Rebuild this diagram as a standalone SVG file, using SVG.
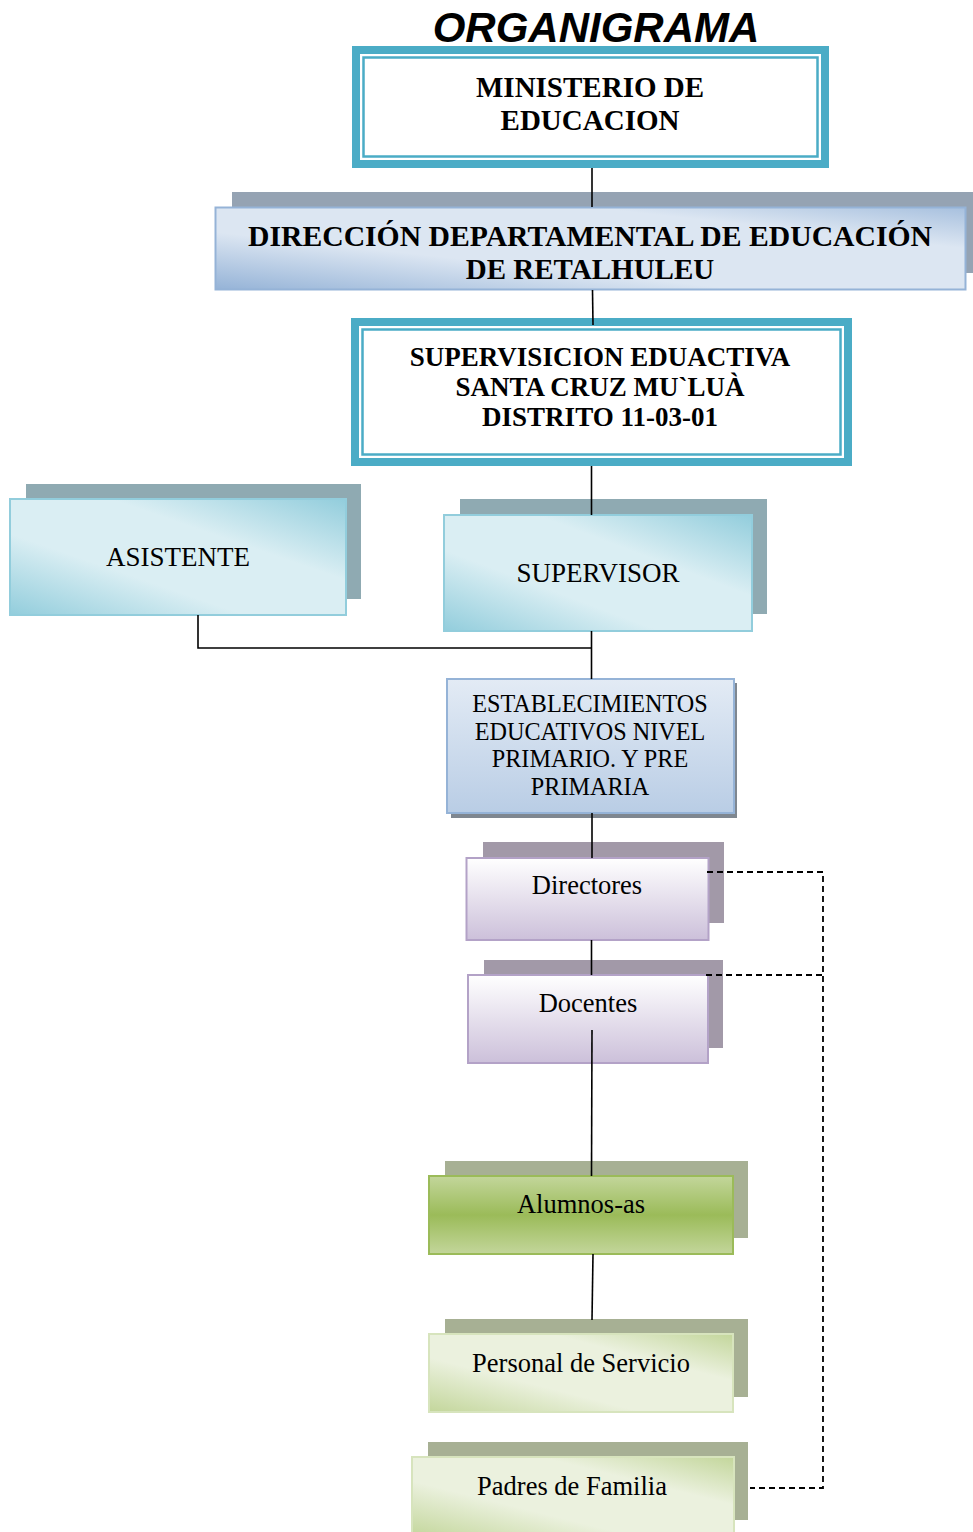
<svg xmlns="http://www.w3.org/2000/svg" width="973" height="1532" viewBox="0 0 973 1532">
<defs>
<linearGradient id="gBlue" x1="0" y1="1" x2="1" y2="0">
<stop offset="0" stop-color="#95B3D7"/><stop offset="0.35" stop-color="#DCE6F2"/><stop offset="0.75" stop-color="#DCE6F2"/><stop offset="1" stop-color="#A7C0DE"/>
</linearGradient>
<linearGradient id="gCyan" x1="0" y1="1" x2="1" y2="0">
<stop offset="0" stop-color="#92CDDC"/><stop offset="0.35" stop-color="#DAEEF3"/><stop offset="0.65" stop-color="#DAEEF3"/><stop offset="1" stop-color="#92CDDC"/>
</linearGradient>
<linearGradient id="gEst" x1="0" y1="0" x2="0" y2="1">
<stop offset="0" stop-color="#E3EBF5"/><stop offset="1" stop-color="#B9CDE5"/>
</linearGradient>
<linearGradient id="gPurple" x1="0" y1="0" x2="0" y2="1">
<stop offset="0" stop-color="#FFFFFF"/><stop offset="1" stop-color="#CCC0DA"/>
</linearGradient>
<linearGradient id="gGreen" x1="0" y1="0" x2="0" y2="1">
<stop offset="0" stop-color="#C3D69B"/><stop offset="0.5" stop-color="#9BBB59"/><stop offset="1" stop-color="#C3D69B"/>
</linearGradient>
<linearGradient id="gLGreen" x1="0" y1="1" x2="1" y2="0">
<stop offset="0" stop-color="#C3D69B"/><stop offset="0.35" stop-color="#EBF1DE"/><stop offset="0.7" stop-color="#EBF1DE"/><stop offset="1" stop-color="#C3D69B"/>
</linearGradient>
</defs>
<style>
.t{font-family:"Liberation Serif","Times New Roman",serif;fill:#000;text-anchor:middle}
.b{font-weight:bold}
.n{font-size:26.5px}
.line{stroke:#000;stroke-width:1.6;fill:none}
.dash{stroke:#000;stroke-width:1.8;fill:none;stroke-dasharray:6 4}
</style>
<text x="596" y="42" font-family="Liberation Sans, Arial, sans-serif" font-weight="bold" font-style="italic" font-size="42" text-anchor="middle">ORGANIGRAMA</text>

<g id="ministerio">
<rect x="352" y="46" width="477" height="122" fill="#4BACC6"/>
<rect x="360" y="54" width="461" height="106" fill="#FFFFFF"/>
<rect x="363.5" y="57.5" width="454" height="99" fill="#FFFFFF" stroke="#4BACC6" stroke-width="2.5"/>
<text class="t b" x="590" y="97" font-size="29">MINISTERIO DE</text>
<text class="t b" x="590" y="130" font-size="29">EDUCACION</text>
</g>

<g id="direccion">
<rect x="232" y="192" width="741" height="81" fill="#95A3B3"/>
<rect x="215.5" y="207.5" width="750" height="82" fill="url(#gBlue)" stroke="#95B3D7" stroke-width="2"/>
<text class="t b" x="590" y="246" font-size="29" textLength="684" lengthAdjust="spacingAndGlyphs">DIRECCIÓN DEPARTAMENTAL DE EDUCACIÓN</text>
<text class="t b" x="590" y="279" font-size="29">DE RETALHULEU</text>
</g>

<g id="supervisicion">
<rect x="351" y="318" width="501" height="148" fill="#4BACC6"/>
<rect x="359" y="326" width="485" height="132" fill="#FFFFFF"/>
<rect x="362.5" y="329.5" width="478" height="125" fill="#FFFFFF" stroke="#4BACC6" stroke-width="2.5"/>
<text class="t b" x="600" y="366" font-size="27">SUPERVISICION EDUACTIVA</text>
<text class="t b" x="600" y="396" font-size="27">SANTA CRUZ MU`LUÀ</text>
<text class="t b" x="600" y="426" font-size="27">DISTRITO 11-03-01</text>
</g>

<g id="asistente">
<rect x="26" y="484" width="335" height="115" fill="#8FAAB2"/>
<rect x="10" y="499" width="336" height="116" fill="url(#gCyan)" stroke="#92CDDC" stroke-width="2"/>
<text class="t" x="178" y="566" font-size="27">ASISTENTE</text>
</g>

<g id="supervisor">
<rect x="460" y="499" width="307" height="115" fill="#8FAAB2"/>
<rect x="444" y="515" width="308" height="116" fill="url(#gCyan)" stroke="#92CDDC" stroke-width="2"/>
<text class="t" x="598" y="582" font-size="27">SUPERVISOR</text>
</g>

<g id="establecimientos">
<rect x="451" y="683" width="286" height="135" fill="#7F8790"/>
<rect x="447" y="679" width="287" height="134" fill="url(#gEst)" stroke="#95B3D7" stroke-width="2"/>
<text class="t" x="590" y="712" font-size="24.2">ESTABLECIMIENTOS</text>
<text class="t" x="590" y="739.5" font-size="24.2">EDUCATIVOS NIVEL</text>
<text class="t" x="590" y="767" font-size="24.2">PRIMARIO. Y PRE</text>
<text class="t" x="590" y="794.5" font-size="24.2">PRIMARIA</text>
</g>

<g id="directores">
<rect x="483" y="842" width="241" height="81" fill="#A299A8"/>
<rect x="466.5" y="858" width="242" height="82" fill="url(#gPurple)" stroke="#B3A2C7" stroke-width="2"/>
<text class="t n" x="587" y="894">Directores</text>
</g>

<g id="docentes">
<rect x="484" y="960" width="239" height="88" fill="#A299A8"/>
<rect x="468" y="975" width="240" height="88" fill="url(#gPurple)" stroke="#B3A2C7" stroke-width="2"/>
<text class="t n" x="588" y="1012">Docentes</text>
</g>

<g id="alumnos">
<rect x="445" y="1161" width="303" height="77" fill="#A7B094"/>
<rect x="429" y="1176" width="304" height="78" fill="url(#gGreen)" stroke="#9BBB59" stroke-width="2"/>
<text class="t n" x="581" y="1213">Alumnos-as</text>
</g>

<g id="personal">
<rect x="445" y="1319" width="303" height="78" fill="#A7B094"/>
<rect x="429" y="1334" width="304" height="78" fill="url(#gLGreen)" stroke="#D7E4BD" stroke-width="2"/>
<text class="t n" x="581" y="1372">Personal de Servicio</text>
</g>

<g id="padres">
<rect x="428" y="1442" width="320" height="78" fill="#A7B094"/>
<rect x="412" y="1457" width="322" height="80" fill="url(#gLGreen)" stroke="#D7E4BD" stroke-width="2"/>
<text class="t n" x="572" y="1495">Padres de Familia</text>
</g>

<g id="connectors">
<line class="line" x1="592" y1="168" x2="592" y2="207"/>
<line class="line" x1="592.5" y1="290" x2="593" y2="325"/>
<line class="line" x1="591.5" y1="466" x2="591.5" y2="515"/>
<polyline class="line" points="198,615 198,648 591.5,648"/>
<line class="line" x1="591.5" y1="631" x2="591.5" y2="679"/>
<line class="line" x1="592" y1="813" x2="592" y2="858"/>
<line class="line" x1="591.5" y1="940" x2="591.5" y2="975"/>
<line class="line" x1="592" y1="1030" x2="591.5" y2="1176"/>
<line class="line" x1="593" y1="1254" x2="592" y2="1320"/>
<polyline class="dash" points="707,872 823,872 823,1488 750,1488"/>
<line class="dash" x1="706" y1="975" x2="823" y2="975"/>
</g>
</svg>
